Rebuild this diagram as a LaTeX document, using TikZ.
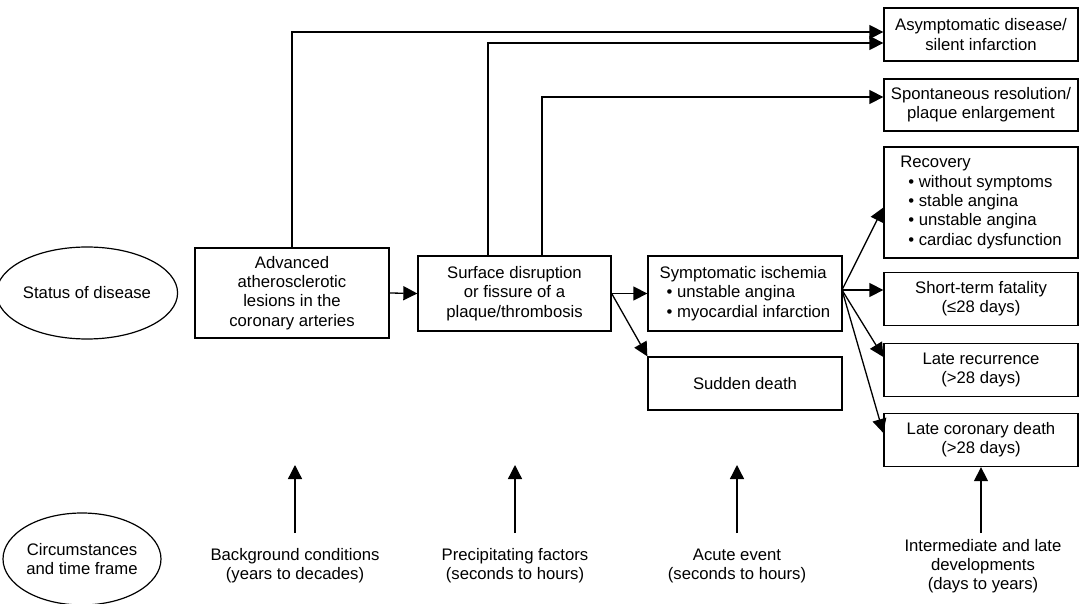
\documentclass[tikz,border=0pt]{standalone}
\usepackage{fontspec}
\setmainfont{Liberation Sans}
\usetikzlibrary{arrows.meta,shapes.geometric}
\begin{document}
\begin{tikzpicture}[x=1pt,y=-1pt,
  txt/.style={font=\fontsize{16.7}{19.3}\selectfont, align=center, inner sep=0pt},
  box/.style={txt, draw, line width=1.3pt, minimum width=194pt},
  oval/.style={txt, draw, ellipse, line width=1.2pt, minimum width=158pt, minimum height=92pt},
  arr/.style={line width=1.3pt, -{Triangle[length=14pt,width=14pt]}}
]
\clip (0,0) rectangle (1080,604);

% ellipses
\node[oval] (status) at (87,293) {Status of disease};
\node[oval] (circ) at (82,559) {Circumstances\\and time frame};

% main chain
\node[box, minimum height=90pt] (adv) at (292,293) {Advanced\\atherosclerotic\\lesions in the\\coronary arteries};
\node[box, minimum width=193pt, minimum height=75pt] (surf) at (514.5,293.5) {Surface disruption\\or fissure of a\\plaque/thrombosis};
\node[box, minimum height=75pt, align=left] (symp) at (745,293.5) {Symptomatic ischemia\\\hspace*{7pt}\textbullet\ unstable angina\\\hspace*{7pt}\textbullet\ myocardial infarction};
\node[box, minimum height=53pt] (sudden) at (745,383.5) {Sudden death};

% right column
\node[box, minimum height=53pt] (asym) at (981,34.5) {Asymptomatic disease/\\silent infarction};
\node[box, minimum height=52pt] (spont) at (981,105) {Spontaneous resolution/\\plaque enlargement};
\node[box, minimum height=111pt, align=left] (recov) at (981,202.5) {Recovery\\\hspace*{8pt}\textbullet\ without symptoms\\\hspace*{8pt}\textbullet\ stable angina\\\hspace*{8pt}\textbullet\ unstable angina\\\hspace*{8pt}\textbullet\ cardiac dysfunction};
\node[box, minimum height=53pt] (short) at (981,299) {Short-term fatality\\(≤28 days)};
\node[box, minimum height=53pt] (laterec) at (981,370) {Late recurrence\\(>28 days)};
\node[box, minimum height=53pt] (latecor) at (981,440) {Late coronary death\\(>28 days)};

% bottom labels
\node[txt] (bg) at (295,566) {Background conditions\\(years to decades)};
\node[txt] (prec) at (515,566) {Precipitating factors\\(seconds to hours)};
\node[txt] (acute) at (737,566) {Acute event\\(seconds to hours)};
\node[txt] (inter) at (983,566) {Intermediate and late\\developments\\(days to years)};

% top connectors
\draw[arr] (adv.north) |- ([yshift=2.5pt]asym.west);
\draw[arr] ([xshift=-26.5pt]surf.north) |- ([yshift=-8.5pt]asym.west);
\draw[arr] ([xshift=27.5pt]surf.north) |- ([yshift=8pt]spont.west);

% chain
\draw[arr] (adv.east) -- (surf.west);
\draw[arr] (surf.east) -- (symp.west);
\draw[arr] (surf.east) -- (sudden.north west);

% fan
\coordinate (fan) at (842,290);
\draw[arr] (fan) -- ([yshift=-5pt]recov.west);
\draw[arr] (fan) -- ([yshift=9pt]short.west);
\draw[arr] (fan) -- ([yshift=13pt]laterec.west);
\draw[arr] (fan) -- ([yshift=7pt]latecor.west);

% vertical arrows
\coordinate (b1) at (295,533); \coordinate (t1) at (295,465);
\coordinate (b2) at (515,533); \coordinate (t2) at (515,465);
\coordinate (b3) at (737,533); \coordinate (t3) at (737,465);
\coordinate (b4) at (981,533);
\draw[arr] (b1) -- (t1);
\draw[arr] (b2) -- (t2);
\draw[arr] (b3) -- (t3);
\draw[arr] (b4) -- (latecor.south);
\end{tikzpicture}
\end{document}
